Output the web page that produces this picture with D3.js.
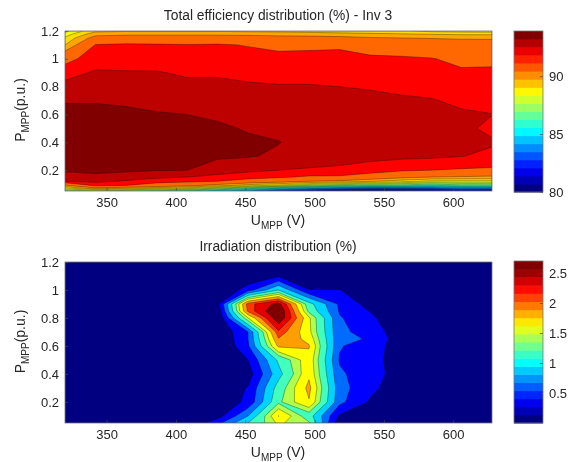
<!DOCTYPE html>
<html>
<head>
<meta charset="utf-8">
<title>Inv 3</title>
<script src="https://cdn.jsdelivr.net/npm/d3@7"></script>
<style>
  html, body { margin: 0; background: #fff; }
  svg { filter: blur(0.35px); }
  text { font-family: "Liberation Sans", Arial, sans-serif; fill: #262626; }
  .domain { display: none; }
  .tick line { stroke: #444; stroke-width: 0.7; }
</style>
</head>
<body>
<svg id="chart" width="568" height="462"></svg>
<script>
// grid columns, U_MPP (V)
const uGrid = [320, 342, 364, 386, 408, 430, 452, 474, 496, 518, 540, 562, 584, 606, 628];

const xTicks = [350, 400, 450, 500, 550, 600];
const yTicks = [0.2, 0.4, 0.6, 0.8, 1, 1.2];

// total efficiency (%), one row per P value
const effP = [0.05, 0.07, 0.09, 0.12, 0.15, 0.2, 0.3, 0.4, 0.5, 0.6, 0.7, 0.8, 0.9, 1, 1.1, 1.15, 1.18, 1.2];
const effRows = [
  [87, 87.5, 87, 86.5, 86, 85, 84, 82.5, 81.5, 80.5, 80.5, 80.5, 81, 81.5, 81],
  [88.5, 90, 89.5, 89, 88.5, 87.5, 86.5, 85.5, 84.5, 84, 83.5, 83.5, 83.5, 84, 84],
  [90, 91.8, 91.55, 91, 90.5, 89.8, 89, 88.5, 87.5, 87, 86.5, 86.5, 86, 86.5, 86.5],
  [92.4, 92.6, 92.3, 91.9, 91.8, 91.55, 91.1, 90.7, 90.2, 90, 89.5, 89, 88.5, 88.5, 88.5],
  [92.9, 93, 92.8, 92.6, 92.4, 92.15, 91.9, 91.7, 91.4, 91.4, 91, 90.5, 90.2, 90.1, 90],
  [93.3, 93.4, 93.35, 93.25, 93.2, 92.85, 92.6, 92.4, 92.3, 92.2, 92, 91.7, 91.55, 91.45, 91.4],
  [93.6, 93.7, 93.6, 93.5, 93.45, 93.3, 93.25, 93.1, 92.9, 92.8, 92.65, 92.6, 92.55, 92.42, 92.2],
  [93.7, 93.8, 93.7, 93.6, 93.5, 93.4, 93.3, 93.22, 93, 92.9, 92.85, 92.8, 92.75, 92.7, 92.5],
  [93.6, 93.7, 93.6, 93.45, 93.35, 93.3, 93.15, 93.05, 92.95, 92.85, 92.85, 92.8, 92.7, 92.6, 92.2],
  [93.4, 93.5, 93.4, 93.25, 93.2, 93.1, 92.95, 92.85, 92.8, 92.75, 92.7, 92.65, 92.6, 92.5, 92.42],
  [93.15, 93.12, 93.05, 93, 92.9, 92.85, 92.7, 92.65, 92.6, 92.6, 92.55, 92.5, 92.45, 92.25, 92.1],
  [92.65, 92.8, 92.75, 92.7, 92.6, 92.6, 92.5, 92.45, 92.45, 92.4, 92.35, 92.25, 92.15, 91.95, 91.9],
  [92.1, 92.5, 92.45, 92.45, 92.3, 92.3, 92.2, 92.15, 92.15, 92.15, 92.05, 92, 91.9, 91.7, 91.7],
  [91.2, 92.05, 92.1, 92.05, 92, 92, 91.9, 91.85, 91.85, 91.85, 91.75, 91.7, 91.6, 91.3, 91.35],
  [89.4, 91.6, 91.7, 91.65, 91.6, 91.65, 91.5, 91.3, 91.35, 91.4, 91, 90.9, 90.8, 90.65, 90.6],
  [88.8, 90.6, 90.8, 90.8, 90.8, 90.8, 90.7, 90.6, 90.6, 90.5, 90.3, 90.2, 90.15, 90.1, 90.1],
  [88.3, 89.8, 89.9, 89.9, 89.9, 89.9, 89.9, 89.8, 89.7, 89.6, 89.5, 89.4, 89.3, 89.2, 89.2],
  [87.9, 89.2, 89.3, 89.3, 89.3, 89.3, 89.2, 89.2, 89.1, 89, 88.9, 88.8, 88.5, 88.4, 88.3]
];
const effLevels = [81, 81.8, 82.5, 83.2, 84, 84.7, 85.4, 86.1, 86.8, 87.5, 88.1, 88.7, 89.4, 90.2, 91.55, 92.4, 93.2];
const effTicks = [80, 85, 90];

// irradiation (%), one row per P value
const irrP = [0.05, 0.1, 0.2, 0.3, 0.4, 0.5, 0.6, 0.65, 0.7, 0.8, 0.85, 0.9, 1, 1.1, 1.2];
const irrRows = [
  [0, 0, 0, 0, 0.05, 0.5, 1.1, 1.6, 1.4, 0.1, 0, 0, 0, 0, 0],
  [0, 0, 0, 0, 0.02, 0.2, 0.83, 1.81, 1.22, 0.28, 0.03, 0, 0, 0, 0],
  [0, 0, 0, 0, 0, 0.1, 0.38, 1.32, 1.78, 0.65, 0.28, 0.08, 0, 0, 0],
  [0, 0, 0, 0, 0, 0.08, 0.33, 1.22, 1.87, 0.68, 0.38, 0.15, 0, 0, 0],
  [0, 0, 0, 0, 0, 0.02, 0.18, 1, 1.75, 0.62, 0.42, 0.2, 0, 0, 0],
  [0, 0, 0, 0, 0, 0, 0.31, 1.15, 1.72, 0.55, 0.4, 0.2, 0, 0, 0],
  [0, 0, 0, 0, 0, 0, 0.54, 1.85, 1.82, 0.6, 0.42, 0.2, 0, 0, 0],
  [0, 0, 0, 0, 0, 0.02, 0.57, 2.03, 1.72, 0.62, 0.56, 0.15, 0, 0, 0],
  [0, 0, 0, 0, 0, 0.05, 0.575, 2.2, 1.62, 0.62, 0.5, 0.12, 0, 0, 0],
  [0, 0, 0, 0, 0, 0.05, 1.55, 2.72, 1.6, 0.6, 0.38, 0.05, 0, 0, 0],
  [0, 0, 0, 0, 0, 0.1, 2.1, 2.8, 1.3, 0.55, 0.3, 0.02, 0, 0, 0],
  [0, 0, 0, 0, 0, 0.2, 2.15, 2.6, 1.2, 0.53, 0.2, 0, 0, 0, 0],
  [0, 0, 0, 0, 0, 0, 0.45, 1.1, 0.32, 0.32, 0.1, 0, 0, 0, 0],
  [0, 0, 0, 0, 0, 0, 0.1, 0.28, 0.05, 0, 0, 0, 0, 0, 0],
  [0, 0, 0, 0, 0, 0, 0, 0, 0, 0, 0, 0, 0, 0, 0]
];
const irrLevels = [0.31, 0.575, 0.83, 1.1, 1.37, 1.56, 1.8, 2.05, 2.25, 2.5];
const irrTicks = [0.5, 1, 1.5, 2, 2.5];

function jet(t) {
  t = Math.max(0, Math.min(1, t));
  const ch = c => Math.round(255 * Math.max(0, Math.min(1, 1.5 - 4 * Math.abs(t - c))));
  return "rgb(" + ch(0.75) + "," + ch(0.5) + "," + ch(0.25) + ")";
}

const svg = d3.select("#chart");

function drawPanel(o) {
  const x = d3.scaleLinear().domain([320, 628]).range([65, 492]);
  const y = d3.scaleLinear().domain([0.05, 1.2]).range([o.bottom, o.top]);
  const colourT = d3.scaleLinear().domain(o.colourDomain).clamp(true);

  // contour coordinates are in cell units, cell centres sit at i + 0.5
  const colAt = d3.scaleLinear().domain(uGrid.map((d, i) => i + 0.5)).range(uGrid).clamp(true);
  const rowAt = d3.scaleLinear().domain(o.rowsP.map((d, i) => i + 0.5)).range(o.rowsP).clamp(true);
  const path = d3.geoPath(d3.geoTransform({
    point(px, py) { this.stream.point(x(colAt(px)), y(rowAt(py))); }
  }));

  const clipId = "clip" + o.top;
  svg.append("clipPath").attr("id", clipId).append("rect")
    .attr("x", 65).attr("y", o.top).attr("width", 427).attr("height", o.bottom - o.top);

  const plot = svg.append("g").attr("clip-path", "url(#" + clipId + ")");
  plot.append("rect")
    .attr("x", 65).attr("y", o.top).attr("width", 427).attr("height", o.bottom - o.top)
    .attr("fill", jet(0));

  const contours = d3.contours()
    .size([uGrid.length, o.rowsP.length])
    .thresholds(o.levels)(o.rows.flat());

  plot.selectAll("path").data(contours).join("path")
    .attr("d", path)
    .attr("fill", d => jet(colourT(d.value)))
    .attr("stroke", "#000")
    .attr("stroke-opacity", 0.55)
    .attr("stroke-width", 0.6);

  // axes, ticks point inward like the original
  svg.append("g").attr("transform", "translate(0," + o.bottom + ")")
    .call(d3.axisBottom(x).tickValues(xTicks).tickSizeInner(-3).tickSizeOuter(0).tickPadding(7))
    .selectAll("text").style("font-size", "13px");
  svg.append("g").attr("transform", "translate(65,0)")
    .call(d3.axisLeft(y).tickValues(yTicks).tickFormat(d => d).tickSizeInner(-3).tickSizeOuter(0).tickPadding(6))
    .selectAll("text").style("font-size", "13px");
  svg.append("rect")
    .attr("x", 65).attr("y", o.top).attr("width", 427).attr("height", o.bottom - o.top)
    .attr("fill", "none").attr("stroke", "#777").attr("stroke-width", 0.8);

  svg.append("text")
    .attr("x", 278).attr("y", o.top - 11).attr("text-anchor", "middle")
    .style("font-size", "13.8px").text(o.title);

  const xl = svg.append("text").attr("x", 278).attr("y", o.bottom + 34).attr("text-anchor", "middle").style("font-size", "14px");
  xl.append("tspan").text("U");
  xl.append("tspan").attr("dy", 4).style("font-size", "10px").text("MPP");
  xl.append("tspan").attr("dy", -4).text(" (V)");

  const yl = svg.append("text")
    .attr("transform", "translate(25," + ((o.top + o.bottom) / 2 - 1) + ") rotate(-90)")
    .attr("text-anchor", "middle").style("font-size", "14px");
  yl.append("tspan").text("P");
  yl.append("tspan").attr("dy", 4).style("font-size", "10px").text("MPP");
  yl.append("tspan").attr("dy", -4).text("(p.u.)");

  // colour bar, 20 steps of the map
  const c = d3.scaleLinear().domain(o.barDomain).range([o.barBottom, o.barTop]);
  const step = (o.barDomain[1] - o.barDomain[0]) / 20;
  svg.append("g").selectAll("rect").data(d3.range(20)).join("rect")
    .attr("x", 514).attr("width", 29)
    .attr("y", i => c(o.barDomain[0] + (i + 1) * step))
    .attr("height", i => c(o.barDomain[0] + i * step) - c(o.barDomain[0] + (i + 1) * step) + 0.5)
    .attr("fill", i => jet(colourT(o.barDomain[0] + i * step)));
  svg.append("g").attr("transform", "translate(543,0)")
    .call(d3.axisRight(c).tickValues(o.barTicks).tickFormat(d => d).tickSizeInner(-3).tickSizeOuter(0).tickPadding(6))
    .selectAll("text").style("font-size", "13px");
  svg.append("rect")
    .attr("x", 514).attr("y", o.barTop).attr("width", 29).attr("height", o.barBottom - o.barTop)
    .attr("fill", "none").attr("stroke", "#777").attr("stroke-width", 0.8);
}

drawPanel({
  title: "Total efficiency distribution (%) - Inv 3",
  top: 31, bottom: 191,
  rowsP: effP, rows: effRows, levels: effLevels,
  colourDomain: [80, 93.2],
  barDomain: [80, 93.9], barTop: 31, barBottom: 192, barTicks: effTicks
});

drawPanel({
  title: "Irradiation distribution (%)",
  top: 262, bottom: 423,
  rowsP: irrP, rows: irrRows, levels: irrLevels,
  colourDomain: [0, 2.5],
  barDomain: [0, 2.7], barTop: 261, barBottom: 423, barTicks: irrTicks
});
</script>
</body>
</html>
